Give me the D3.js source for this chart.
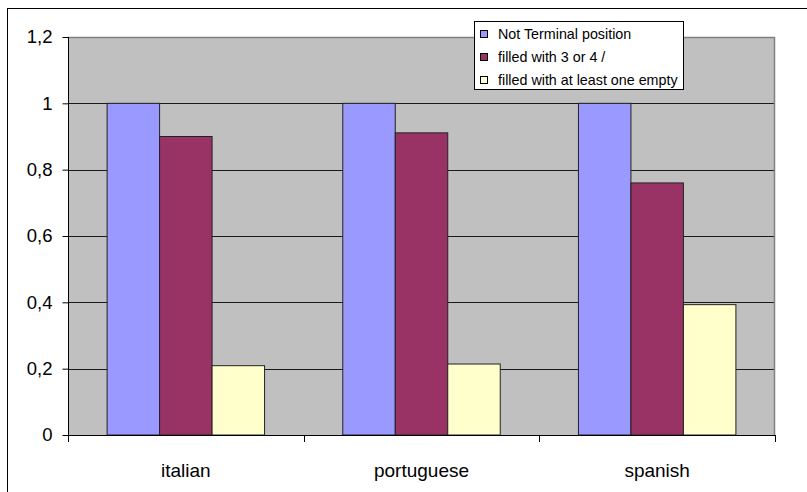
<!DOCTYPE html>
<html>
<head>
<meta charset="utf-8">
<script src="https://cdn.jsdelivr.net/npm/d3@7"></script>
<style>
  html, body { margin: 0; padding: 0; background: #fff; }
  svg { display: block; font-family: Arial, "Liberation Sans", sans-serif; }
</style>
</head>
<body>
<svg id="chart" width="807" height="492"></svg>
<script>
// Languages on the x axis
const categories = ["italian", "portuguese", "spanish"];
// Series names, in legend order
const seriesNames = ["Not Terminal position", "filled with 3 or 4 /", "filled with at least one empty"];
// Values per series, one entry per language
const notTerminal = [1, 1, 1];
const filled34 = [0.9, 0.911, 0.76];
const filledEmpty = [0.209, 0.214, 0.393];
const yTicks = [0, 0.2, 0.4, 0.6, 0.8, 1, 1.2];

const seriesValues = [notTerminal, filled34, filledEmpty];
const colors = ["#9999FF", "#993366", "#FFFFCC"];

const svg = d3.select("#chart");

// Outer chart frame
svg.append("rect")
  .attr("x", 7.5).attr("y", 8.5)
  .attr("width", 830).attr("height", 520)
  .attr("fill", "#fff").attr("stroke", "#000").attr("stroke-width", 1);

const plot = { left: 68, right: 775, top: 37, bottom: 435 };

const y = d3.scaleLinear().domain([0, 1.2]).range([plot.bottom, plot.top]);
const x0 = d3.scaleBand().domain(categories).range([plot.left, plot.right]).padding(0);
const x1 = d3.scaleBand().domain(d3.range(seriesNames.length))
  .range([0, x0.bandwidth()]).paddingInner(0).paddingOuter(0.745);

// Plot background
svg.append("rect")
  .attr("x", plot.left).attr("y", plot.top)
  .attr("width", plot.right - plot.left).attr("height", plot.bottom - plot.top)
  .attr("fill", "#C0C0C0");

// Horizontal gridlines
svg.append("g").selectAll("line")
  .data(yTicks.filter(t => t > 0 && t < 1.2))
  .join("line")
  .attr("x1", plot.left).attr("x2", plot.right)
  .attr("y1", d => Math.round(y(d)) + 0.5).attr("y2", d => Math.round(y(d)) + 0.5)
  .attr("stroke", "#1a1a1a").attr("stroke-width", 1);

// Plot border (top and right)
svg.append("path")
  .attr("d", `M${plot.left},${Math.round(y(1.2)) + 0.5}H${plot.right - 0.5}V${plot.bottom}`)
  .attr("fill", "none").attr("stroke", "#808080").attr("stroke-width", 1.5);

// Bars
const groups = svg.append("g").selectAll("g")
  .data(categories)
  .join("g")
  .attr("transform", d => `translate(${x0(d)},0)`);

groups.selectAll("rect")
  .data((d, i) => seriesValues.map((vals, s) => ({ s, v: vals[i] })))
  .join("rect")
  .attr("x", d => x1(d.s))
  .attr("y", d => y(d.v))
  .attr("width", x1.bandwidth())
  .attr("height", d => y(0) - y(d.v))
  .attr("fill", d => colors[d.s])
  .attr("stroke", "#222")
  .attr("stroke-width", 1);

// Y axis
const yAxis = d3.axisLeft(y)
  .tickValues(yTicks)
  .tickSize(6)
  .tickPadding(10)
  .tickFormat(d => d3.format("")(+d.toFixed(1)).replace(".", ","));

const gy = svg.append("g")
  .attr("transform", `translate(${plot.left + 0.5},0)`)
  .call(yAxis);
gy.select(".domain").attr("stroke", "#000").attr("d", `M0,${plot.top}V${plot.bottom + 7}`);
gy.selectAll(".tick line").attr("stroke", "#000");
gy.selectAll(".tick text")
  .attr("font-size", 18.5)
  .attr("font-family", "Arial, 'Liberation Sans', sans-serif")
  .attr("fill", "#000");

// X axis baseline with ticks at category boundaries
const boundaries = [plot.left, ...categories.map(c => x0(c) + x0.bandwidth())];
svg.append("line")
  .attr("x1", plot.left).attr("x2", plot.right)
  .attr("y1", plot.bottom + 0.5).attr("y2", plot.bottom + 0.5)
  .attr("stroke", "#000");
svg.append("g").selectAll("line")
  .data(boundaries)
  .join("line")
  .attr("x1", d => Math.round(d) + 0.5).attr("x2", d => Math.round(d) + 0.5)
  .attr("y1", plot.bottom).attr("y2", plot.bottom + 7)
  .attr("stroke", "#000");

// Category labels
svg.append("g").selectAll("text")
  .data(categories)
  .join("text")
  .attr("x", d => x0(d) + x0.bandwidth() / 2)
  .attr("y", 477)
  .attr("text-anchor", "middle")
  .attr("font-size", 19)
  .attr("fill", "#000")
  .text(d => d);

// Legend
const legend = svg.append("g");
legend.append("rect")
  .attr("x", 474.5).attr("y", 21.5)
  .attr("width", 209).attr("height", 68)
  .attr("fill", "#fff").attr("stroke", "#000").attr("stroke-width", 1);

const rows = legend.selectAll("g.row")
  .data(seriesNames)
  .join("g")
  .attr("class", "row")
  .attr("transform", (d, i) => `translate(0,${34 + i * 23})`);

rows.append("rect")
  .attr("x", 480.5).attr("y", -3.5)
  .attr("width", 7).attr("height", 7)
  .attr("fill", (d, i) => colors[i])
  .attr("stroke", "#000").attr("stroke-width", 1);

rows.append("text")
  .attr("x", 498)
  .attr("y", 5)
  .attr("font-size", 14.3)
  .attr("fill", "#000")
  .text(d => d);
</script>
</body>
</html>
